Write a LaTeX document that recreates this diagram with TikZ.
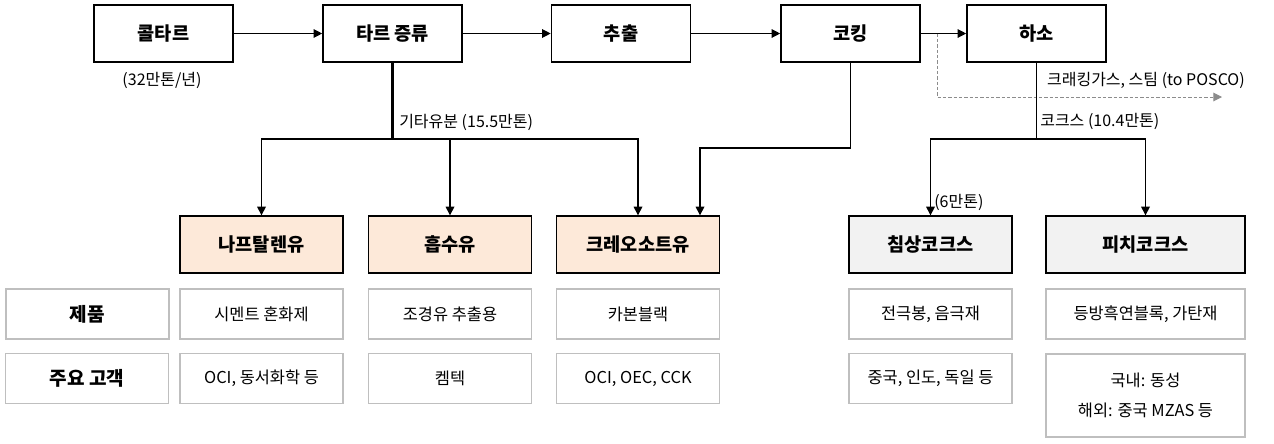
\documentclass[tikz,border=0pt]{standalone}
\usepackage{fontspec}
\setmainfont{Noto Sans CJK KR}
\usetikzlibrary{arrows.meta,calc}
\definecolor{peach}{HTML}{FDE9D9}
\definecolor{lgray}{HTML}{F2F2F2}
\definecolor{bgray}{HTML}{BFBFBF}
\definecolor{dgray}{HTML}{8C8C8C}
\tikzset{
  topbox/.style={draw=black,line width=1.2pt,fill=white,minimum width=104.25pt,minimum height=42.75pt,inner sep=0pt,font=\fontsize{14}{16}\selectfont\bfseries},
  prodbox/.style={draw=black,line width=1pt,minimum width=122.25pt,minimum height=42.75pt,inner sep=0pt,font=\fontsize{14}{16}\selectfont\bfseries},
  oilbox/.style={prodbox,fill=peach},
  cokebox/.style={prodbox,fill=lgray},
  infobox/.style={draw=bgray,line width=1pt,fill=white,minimum width=122.25pt,minimum height=37.5pt,inner sep=0pt,align=center,font=\fontsize{12.3}{23}\selectfont},
  headbox/.style={infobox,font=\fontsize{14.3}{16}\selectfont\bfseries},
  flow/.style={line width=0.9pt,-{Triangle[length=6.5pt,width=6.5pt]}},
  plainline/.style={line width=0.9pt},
  thickline/.style={line width=2pt},
  gasline/.style={draw=dgray,line width=0.75pt,dash pattern=on 2.5pt off 1.5pt,-{Triangle[length=6.5pt,width=6.5pt]}},
  lbl/.style={inner sep=0pt,font=\fontsize{12}{14}\selectfont},
}
\begin{document}
\begin{tikzpicture}[x=0.75pt,y=-0.75pt]
\useasboundingbox (0,0) rectangle (1274,443);
% top row
\node[topbox] (kol) at (163.5,33.5) {콜타르};
\node[topbox] (tar) at (392.5,33.5) {타르 증류};
\node[topbox] (ext) at (621,33.5) {추출};
\node[topbox] (cok) at (850.5,33.5) {코킹};
\node[topbox] (cal) at (1036.5,33.5) {하소};
% second row
\node[oilbox] (nap) at (261.5,244.5) {나프탈렌유};
\node[oilbox] (abs) at (450,244.5) {흡수유};
\node[oilbox] (cre) at (638,244.5) {크레오소트유};
\node[cokebox] (nee) at (930.5,244.5) {침상코크스};
\node[cokebox,minimum width=149.25pt] (pit) at (1145.5,244.5) {피치코크스};
% table
\node[headbox] (hprod) at (87.5,314) {제품};
\node[headbox] (hcust) at (87,378.5) {주요 고객};
\node[infobox] (p1) at (261.5,314) {시멘트 혼화제};
\node[infobox] (p2) at (450,314) {조경유 추출용};
\node[infobox] (p3) at (638,314) {카본블랙};
\node[infobox] (p4) at (930.5,314) {전극봉, 음극재};
\node[infobox,minimum width=149.25pt] (p5) at (1145.5,314) {등방흑연블록, 가탄재};
\node[infobox] (c1) at (261.5,378.5) {OCI, 동서화학 등};
\node[infobox] (c2) at (450,378.5) {켐텍};
\node[infobox] (c3) at (638,378.5) {OCI, OEC, CCK};
\node[infobox] (c4) at (930.5,378.5) {중국, 인도, 독일 등};
\node[infobox,minimum width=149.25pt,minimum height=62.25pt] (c5) at (1145.5,395.5) {국내: 동성\\해외: 중국 MZAS 등};
% main flow
\draw[flow] (kol.east) -- (tar.west);
\draw[flow] (tar.east) -- (ext.west);
\draw[flow] (ext.east) -- (cok.west);
\draw[flow] (cok.east) -- (cal.west);
% tar distillation branches
\coordinate (tj) at (392.5,139);
\draw[thickline] (tar.south) -- (tj);
\draw[flow] (tj) -| (nap.north);
\draw[flow] (tj) -| (abs.north);
\draw[flow] (tj) -| (cre.north);
% coking to creosote
\coordinate (ck) at (850.5,148);
\draw[flow] (cok.south) -- (ck) -| ([xshift=46.5pt]cre.north);
% gas to POSCO
\coordinate (g0) at (937,33.5);
\coordinate (g1) at (937,97);
\coordinate (g2) at (1222,97);
\draw[gasline] (g0) -- (g1) -- (g2);
% calcination branches
\coordinate (cj) at (1036.5,139);
\draw[plainline] (cal.south) -- (cj);
\draw[flow] (cj) -| (nee.north);
\draw[flow] (cj) -| (pit.north);
% labels
\node[lbl] (l1) at (162,80) {(32만톤/년)};
\node[lbl,anchor=west] (l2) at (399,122) {기타유분 (15.5만톤)};
\node[lbl,anchor=east] (l3) at (1245,80) {크래킹가스, 스팀 (to POSCO)};
\node[lbl,anchor=west] (l4) at (1040,121) {코크스 (10.4만톤)};
\node[lbl,anchor=west] (l5) at (934,202) {(6만톤)};
\end{tikzpicture}
\end{document}
